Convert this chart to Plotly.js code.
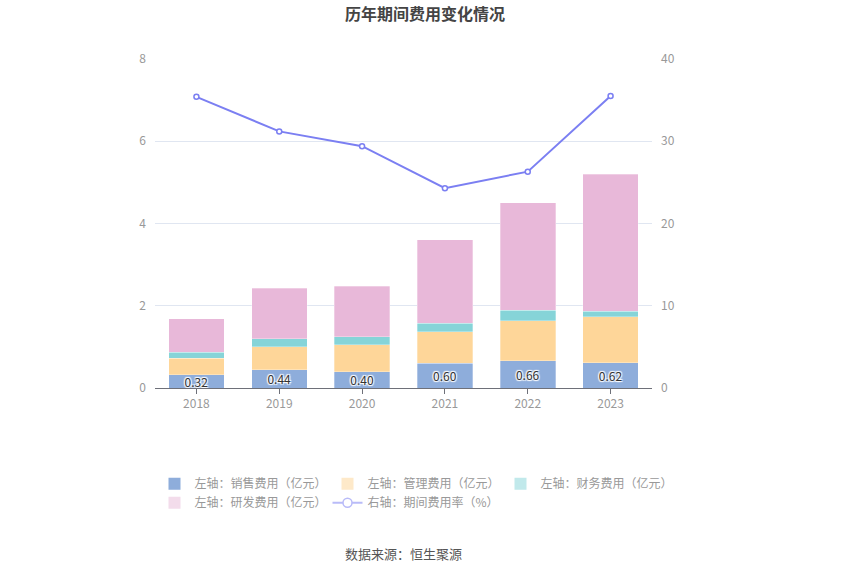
<!DOCTYPE html>
<html><head><meta charset="utf-8">
<script src="https://cdn.plot.ly/plotly-3.0.1.min.js"></script>
<style>body{margin:0;background:#fff}#c{width:850px;height:574px}</style>
</head><body><div id="c"></div>
<script>
const years = ['2018','2019','2020','2021','2022','2023'];
const sales = [0.32, 0.44, 0.40, 0.60, 0.66, 0.62];
const admin = [0.40, 0.56, 0.65, 0.77, 0.98, 1.11];
const finance = [0.15, 0.20, 0.20, 0.21, 0.25, 0.14];
const rnd = [0.82, 1.22, 1.23, 2.02, 2.61, 3.33];
const rate = [35.4, 31.2, 29.4, 24.3, 26.3, 35.5];
const salesLabels = ['0.32','0.44','0.40','0.60','0.66','0.62'];

const names = ['左轴：销售费用（亿元）','左轴：管理费用（亿元）','左轴：财务费用（亿元）','左轴：研发费用（亿元）','右轴：期间费用率（%）'];
const colors = ['#8eaddb','#fed699','#86d4d8','#e8b8d9','#7b7ff2'];
const legendColors = ['#8eaddb','#fee9c9','#c1e9eb','#f3dceb','#b9bbf8'];
const font = '"Noto Sans CJK SC", "Noto Sans", sans-serif';

const traces = [];
const series = [sales, admin, finance, rnd];
series.forEach((s, i) => {
  const t = {type:'bar', x:years, y:s, name:names[i], showlegend:false,
    marker:{color:colors[i], line:{color:'rgba(255,255,255,0.6)', width:0.5}},
    hoverinfo:'skip'};
  if (i === 0) {
    t.text = salesLabels;
    t.textposition = 'inside';
    t.insidetextanchor = 'middle';
    t.constraintext = 'none';
    t.textfont = {color:'#333', size:12, family:font,
      shadow:'1px 1px 1px #fff, -1px -1px 1px #fff, 1px -1px 1px #fff, -1px 1px 1px #fff'};
  }
  traces.push(t);
});
traces.push({type:'scatter', mode:'lines+markers', x:years, y:rate, yaxis:'y2',
  name:names[4], showlegend:false, line:{color:colors[4], width:2},
  marker:{size:5, color:'#fff', line:{color:colors[4], width:1.5}}, hoverinfo:'skip'});
for (let i = 0; i < 4; i++) {
  traces.push({type:'bar', x:[null], y:[null], name:names[i], marker:{color:legendColors[i]},
    showlegend:true, legendrank:i+1});
}
traces.push({type:'scatter', mode:'lines+markers', x:[null], y:[null], name:names[4], yaxis:'y2',
  line:{color:legendColors[4], width:2}, marker:{size:9, color:'#fff', line:{color:legendColors[4], width:1.5}},
  showlegend:true, legendrank:5});

const layout = {
  width:850, height:574,
  margin:{l:155, r:198, t:59, b:186},
  paper_bgcolor:'#fff', plot_bgcolor:'#fff',
  font:{family:font, color:'#999', size:12},
  title:{text:'历年期间费用变化情况', x:0.5, xanchor:'center', y:0.975, yanchor:'middle',
    font:{size:16, color:'#444', family:font, weight:'bold'}},
  barmode:'stack', bargap:0.33,
  showlegend:true,
  legend:{orientation:'h', x:-0.001, y:-0.247, xanchor:'left', yanchor:'top',
    font:{size:12, color:'#999', family:font}, entrywidth:128, entrywidthmode:'pixels',
    traceorder:'normal', itemclick:false, itemdoubleclick:false, tracegroupgap:0},
  xaxis:{type:'category', showgrid:false, showline:true, linecolor:'#6e7079', linewidth:1,
    ticks:'outside', ticklen:5, tickcolor:'#6e7079', tickfont:{color:'#999', size:12}, fixedrange:true},
  yaxis:{range:[0,8], dtick:2, showgrid:true, gridcolor:'#e0e6f1', zeroline:false,
    tickfont:{color:'#999', size:12}, ticks:'', ticklabelstandoff:8, fixedrange:true},
  yaxis2:{range:[0,40], dtick:10, overlaying:'y', side:'right', showgrid:false, zeroline:false,
    tickfont:{color:'#999', size:12}, ticklabelstandoff:8, fixedrange:true},
  annotations:[{text:'数据来源：恒生聚源', xref:'paper', yref:'paper', x:0.5, y:-0.502,
    xanchor:'center', yanchor:'middle', showarrow:false, font:{size:13, color:'#555', family:font}}]
};
Plotly.newPlot('c', traces, layout, {displayModeBar:false, staticPlot:true});
</script></body></html>
